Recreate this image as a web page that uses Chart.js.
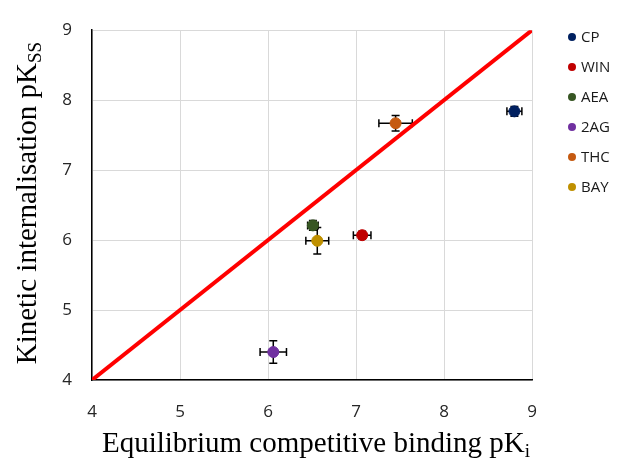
<!DOCTYPE html>
<html>
<head>
<meta charset="utf-8">
<script src="https://cdn.jsdelivr.net/npm/chart.js@4"></script>
<style>
  html, body { margin: 0; padding: 0; background: #ffffff; }
  #wrap { width: 617px; height: 460px; }
</style>
</head>
<body>
<div id="wrap"><canvas id="chart" width="617" height="460"></canvas></div>
<script>
const categories = ["CP", "WIN", "AEA", "2AG", "THC", "BAY"];
const pKi = [8.80, 7.07, 6.51, 6.06, 7.45, 6.56];
const pKss = [7.84, 6.07, 6.21, 4.40, 7.67, 5.99];
const pKiErr = [0.085, 0.10, 0.06, 0.15, 0.19, 0.13];
const pKssErr = [0.07, 0.055, 0.07, 0.16, 0.11, 0.19];
const xTicks = [4, 5, 6, 7, 8, 9];
const yTicks = [4, 5, 6, 7, 8, 9];
const identityLine = [4, 9];

const colors = ["#002060", "#C00000", "#375623", "#7030A0", "#C55A11", "#BF9000"];

const xTitle = "Equilibrium competitive binding pK";
const xTitleSub = "i";
const yTitle = "Kinetic internalisation pK";
const yTitleSub = "SS";


// draws the x and y error bars of every point dataset through the scales
const errorBars = {
    id: "errorBars",
    beforeDatasetsDraw(chart) {
        const ctx = chart.ctx;
        const xs = chart.scales.x;
        const ys = chart.scales.y;
        const cap = 4;
        ctx.save();
        ctx.strokeStyle = "#000000";
        ctx.lineWidth = 1.5;
        chart.data.datasets.forEach(ds => {
            if (!ds.errX) return;
            ds.data.forEach((p, i) => {
                const cx = xs.getPixelForValue(p.x);
                const cy = ys.getPixelForValue(p.y);
                const x0 = xs.getPixelForValue(p.x - ds.errX[i]);
                const x1 = xs.getPixelForValue(p.x + ds.errX[i]);
                const y0 = ys.getPixelForValue(p.y - ds.errY[i]);
                const y1 = ys.getPixelForValue(p.y + ds.errY[i]);
                ctx.beginPath();
                ctx.moveTo(x0, cy); ctx.lineTo(x1, cy);
                ctx.moveTo(x0, cy - cap); ctx.lineTo(x0, cy + cap);
                ctx.moveTo(x1, cy - cap); ctx.lineTo(x1, cy + cap);
                ctx.moveTo(cx, y0); ctx.lineTo(cx, y1);
                ctx.moveTo(cx - cap, y0); ctx.lineTo(cx + cap, y0);
                ctx.moveTo(cx - cap, y1); ctx.lineTo(cx + cap, y1);
                ctx.stroke();
            });
        });
        ctx.restore();
    }
};


// writes a title with a subscript, centred on (x, y), optionally rotated
function drawSubTitle(ctx, main, sub, x, y, angle) {
    const mainFont = "29px 'Liberation Serif', 'Times New Roman', serif";
    const subFont = "19px 'Liberation Serif', 'Times New Roman', serif";
    ctx.save();
    ctx.translate(x, y);
    ctx.rotate(angle);
    ctx.fillStyle = "#000000";
    ctx.textBaseline = "alphabetic";
    ctx.textAlign = "left";
    ctx.font = mainFont;
    const w1 = ctx.measureText(main).width;
    ctx.font = subFont;
    const w2 = ctx.measureText(sub).width;
    const start = -(w1 + w2) / 2;
    ctx.font = mainFont;
    ctx.fillText(main, start, 0);
    ctx.font = subFont;
    ctx.fillText(sub, start + w1, 5);
    ctx.restore();
}


const axisTitles = {
    id: "axisTitles",
    afterDraw(chart) {
        const ctx = chart.ctx;
        const area = chart.chartArea;
        drawSubTitle(ctx, xTitle, xTitleSub, (area.left + area.right) / 2 + 4, 452, 0);
        drawSubTitle(ctx, yTitle, yTitleSub, 36, (area.top + area.bottom) / 2 - 2, -Math.PI / 2);
    }
};


const sideLegend = {
    id: "sideLegend",
    afterDraw(chart) {
        const ctx = chart.ctx;
        ctx.save();
        ctx.font = "15px 'Open Sans', sans-serif";
        ctx.textBaseline = "middle";
        ctx.textAlign = "left";
        let y = 37;
        chart.data.datasets.forEach(ds => {
            if (!ds.errX) return;
            ctx.fillStyle = ds.backgroundColor;
            ctx.beginPath();
            ctx.arc(572, y, 4, 0, Math.PI * 2);
            ctx.fill();
            ctx.fillStyle = "#1a1a1a";
            ctx.fillText(ds.label, 581, y + 1);
            y += 30;
        });
        ctx.restore();
    }
};


function buildDatasets() {
    const datasets = categories.map((name, i) => ({
        type: "scatter",
        label: name,
        data: [{ x: pKi[i], y: pKss[i] }],
        errX: [pKiErr[i]],
        errY: [pKssErr[i]],
        backgroundColor: colors[i],
        borderColor: colors[i],
        pointRadius: 5.5,
        pointHoverRadius: 5.5,
        order: 1
    }));
    datasets.push({
        type: "line",
        label: "y = x",
        data: identityLine.map(v => ({ x: v, y: v })),
        borderColor: "#FF0000",
        borderWidth: 4,
        pointRadius: 0,
        fill: false,
        order: 2
    });
    return datasets;
}


const context = document.getElementById("chart");

new Chart(context, {
    type: "scatter",
    data: { datasets: buildDatasets() },
    options: {
        responsive: false,
        animation: false,
        layout: { padding: { top: 20, right: 85, left: 0, bottom: 0 } },
        plugins: {
            legend: { display: false },
            tooltip: { enabled: false }
        },
        scales: {
            x: {
                type: "linear",
                min: 4,
                max: 9,
                afterFit: s => { s.height = 80; },
                afterBuildTicks: s => { s.ticks = xTicks.map(v => ({ value: v })); },
                grid: { color: "#d9d9d9", lineWidth: 1, drawTicks: false },
                border: { color: "#000000", width: 1.5 },
                ticks: { padding: 22, color: "#262626", font: { family: "'Open Sans', sans-serif", size: 17 } }
            },
            y: {
                type: "linear",
                min: 4,
                max: 9,
                afterFit: s => { s.width = 92; },
                afterBuildTicks: s => { s.ticks = yTicks.map(v => ({ value: v })); },
                grid: { color: "#d9d9d9", lineWidth: 1, drawTicks: false },
                border: { color: "#000000", width: 1.5 },
                ticks: { padding: 20, color: "#262626", font: { family: "'Open Sans', sans-serif", size: 17 } }
            }
        }
    },
    plugins: [errorBars, axisTitles, sideLegend]
});
</script>
</body>
</html>
